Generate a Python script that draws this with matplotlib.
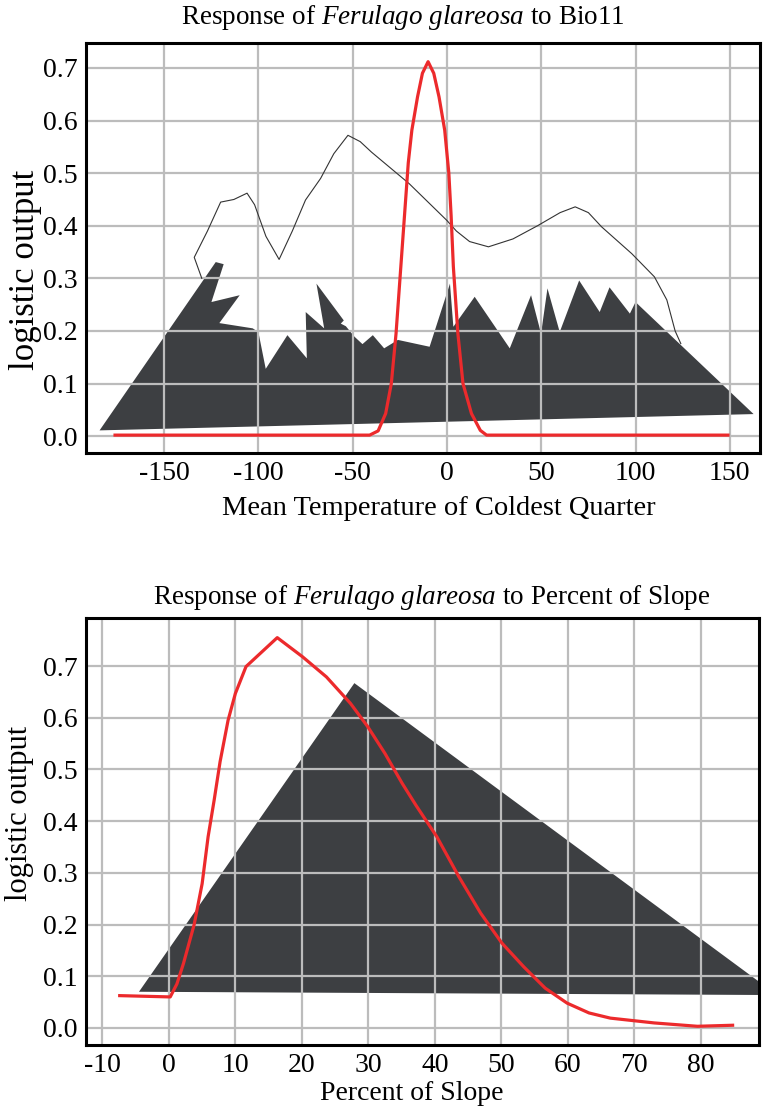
import numpy as np
import matplotlib
matplotlib.use('Agg')
import matplotlib.pyplot as plt
from matplotlib.patches import Polygon

plt.rcParams['font.family'] = ['Liberation Serif', 'DejaVu Serif']
plt.rcParams['mathtext.fontset'] = 'custom'
plt.rcParams['mathtext.rm'] = 'Liberation Serif'
plt.rcParams['mathtext.it'] = 'Liberation Serif:italic'

# ---- Bio11 response (top) ----
bio_red_x = [-176, -41, -36.5, -32.5, -29.5, -27, -24.5, -22.5, -20.5, -18.6, -15.6, -13, -10,
             -7, -4.2, -1.2, 1, 2.2, 3.4, 5.8, 8.5, 13, 17.7, 21, 149]
bio_red_y = [0.002, 0.002, 0.01, 0.043, 0.10, 0.195, 0.32, 0.42, 0.52, 0.582, 0.645, 0.69, 0.712,
             0.69, 0.645, 0.582, 0.50, 0.42, 0.322, 0.195, 0.10, 0.043, 0.011, 0.002, 0.002]

bio_env_x = [-130, -134, -127, -120, -113, -106, -102, -96, -89, -82, -75, -67, -60, -52.5, -46,
             -40, -30, -20, -10, 0, 5, 12, 22, 35, 48, 60, 68, 75, 82, 98, 110, 116.6, 121, 124]
bio_env_y = [0.30, 0.34, 0.39, 0.445, 0.45, 0.462, 0.44, 0.38, 0.336, 0.39, 0.449, 0.49, 0.537,
             0.572, 0.56, 0.54, 0.51, 0.48, 0.445, 0.41, 0.39, 0.37, 0.36, 0.375, 0.40, 0.425,
             0.436, 0.425, 0.398, 0.347, 0.303, 0.259, 0.20, 0.176]

bio_area_x = [-184.2, -122.6, -118.4, -124.9, -109.9, -120.7, -103, -100, -96.1, -84.6, -74.3,
              -74.9, -65.1, -69.2, -54.7, -56.3, -53.6, -49, -44.8, -39.3, -33.3, -26, -9.2,
              1.6, 3.4, 14.7, 33.3, 44.6, 49.9, 53.3, 59.8, 70.1, 81, 86.2, 97, 100, 162.6]
bio_area_y = [0.011, 0.331, 0.327, 0.255, 0.268, 0.215, 0.205, 0.198, 0.128, 0.192, 0.148,
              0.236, 0.205, 0.29, 0.22, 0.214, 0.209, 0.189, 0.175, 0.192, 0.167, 0.183, 0.17,
              0.29, 0.208, 0.265, 0.167, 0.268, 0.195, 0.281, 0.198, 0.296, 0.236, 0.283, 0.233,
              0.255, 0.042]

bio_xticks = [-150, -100, -50, 0, 50, 100, 150]

# ---- Slope response (bottom) ----
slope_red_x = [-7.4, 0.2, 1.2, 2.2, 3.8, 5.0, 5.9, 6.8, 7.7, 8.9, 10.0, 11.6, 16.3, 20.1, 23.7,
               27.3, 29.9, 32.5, 35.1, 37.2, 40.3, 43.6, 46.9, 50.1, 53.4, 56.6, 59.9, 63.2, 66.4,
               73, 79.5, 84.8]
slope_red_y = [0.0625, 0.060, 0.085, 0.125, 0.200, 0.279, 0.370, 0.44, 0.515, 0.595, 0.647, 0.699,
               0.755, 0.718, 0.679, 0.628, 0.583, 0.531, 0.473, 0.43, 0.370, 0.293, 0.222, 0.164,
               0.118, 0.077, 0.048, 0.029, 0.019, 0.0097, 0.0032, 0.0052]

slope_area_x = [-4.5, 27.9, 91.5]
slope_area_y = [0.070, 0.667, 0.0636]

slope_xticks = [-10, 0, 10, 20, 30, 40, 50, 60, 70, 80]

yticks = [0.0, 0.1, 0.2, 0.3, 0.4, 0.5, 0.6, 0.7]

W, H = 769, 1109
fig = plt.figure(figsize=(W / 100, H / 100), dpi=100)

area_col = '#3d3f42'
red = '#ec2a2c'
grid_col = '#bcbcbc'
fs = 20


def style(ax, xticks):
    ax.set_xticks(xticks)
    ax.set_yticks(yticks)
    ax.set_xticklabels([str(t) for t in xticks])
    ax.set_yticklabels(['%.1f' % t for t in yticks])
    ax.grid(True, color=grid_col, linewidth=1.6)
    ax.tick_params(length=0, labelsize=fs, pad=6)
    for s in ax.spines.values():
        s.set_linewidth(2.2)
        s.set_color('black')


# top chart
ax1 = fig.add_axes([86 / W, 1 - 453 / H, (760 - 86) / W, (453 - 43) / H])
ax1.add_patch(Polygon(np.column_stack([bio_area_x, bio_area_y]), closed=True,
                      facecolor=area_col, edgecolor='none', zorder=1))
ax1.plot(bio_env_x, bio_env_y, color='#333333', linewidth=0.8, zorder=2)
ax1.plot(bio_red_x, bio_red_y, color=red, linewidth=2.3, zorder=3)
ax1.set_xlim(-191.4, 166)
ax1.set_ylim(-0.032, 0.7475)
style(ax1, bio_xticks)

fig.text(403 / W, 1 - 17 / H, r'Response of $\mathit{Ferulago\ glareosa}$ to Bio11',
         ha='center', va='center', fontsize=19.5)
fig.text(439 / W, 1 - 509 / H, 'Mean Temperature of Coldest Quarter',
         ha='center', va='center', fontsize=20.5)
fig.text(25 / W, 1 - 270 / H, 'logistic output', rotation=90,
         ha='center', va='center', fontsize=25)

# bottom chart
ax2 = fig.add_axes([86 / W, 1 - 1045 / H, (759 - 86) / W, (1045 - 618) / H])
ax2.add_patch(Polygon(np.column_stack([slope_area_x, slope_area_y]), closed=True,
                      facecolor=area_col, edgecolor='none', zorder=1))
ax2.plot(slope_red_x, slope_red_y, color=red, linewidth=2.3, zorder=3)
ax2.set_xlim(-12.47, 88.77)
ax2.set_ylim(-0.033, 0.793)
style(ax2, slope_xticks)

fig.text(432 / W, 1 - 597 / H, r'Response of $\mathit{Ferulago\ glareosa}$ to Percent of Slope',
         ha='center', va='center', fontsize=19.5)
fig.text(412 / W, 1 - 1094 / H, 'Percent of Slope',
         ha='center', va='center', fontsize=20)
fig.text(20 / W, 1 - 813 / H, 'logistic output', rotation=90,
         ha='center', va='center', fontsize=22)

fig.savefig('out.png', dpi=100)
